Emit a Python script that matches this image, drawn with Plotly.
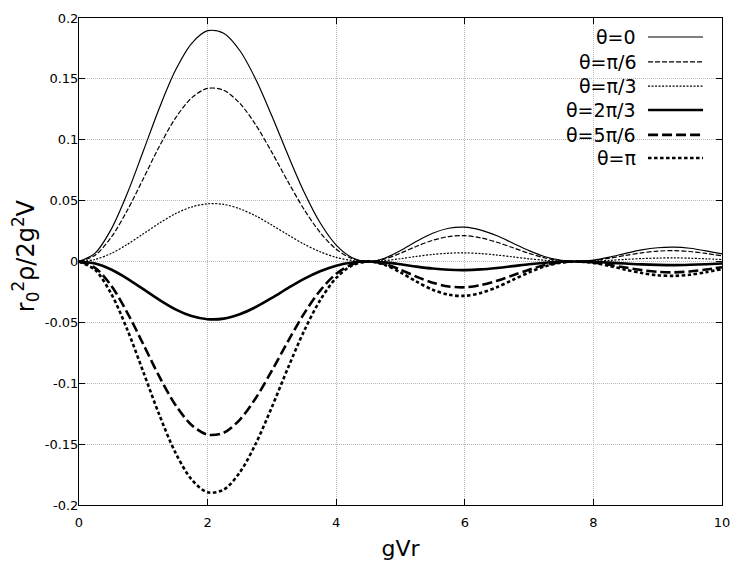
import plotly.graph_objects as go

# sample points along gVr
gvr = [0, 0.25, 0.5, 0.75, 1.0, 1.25, 1.5, 1.75, 2.0, 2.25, 2.5, 2.75, 3.0, 3.25,
       3.5, 3.75, 4.0, 4.25, 4.5, 4.75, 5.0, 5.25, 5.5, 5.75, 6.0, 6.25, 6.5,
       6.75, 7.0, 7.25, 7.5, 7.75, 8.0, 8.25, 8.5, 8.75, 9.0, 9.25, 9.5, 9.75, 10.0]

# values, one list per angle
rho_0 = [0, 0.0069, 0.0264, 0.0558, 0.0907, 0.1261, 0.1570, 0.1790, 0.1896, 0.1874,
         0.1733, 0.1495, 0.1195, 0.0874, 0.0571, 0.0318, 0.0135, 0.0031, 0.0000,
         0.0027, 0.0090, 0.0166, 0.0232, 0.0273, 0.0282, 0.0258, 0.0211, 0.0150,
         0.0089, 0.0039, 0.0009, 0.0000, 0.0011, 0.0036, 0.0067, 0.0095, 0.0113,
         0.0118, 0.0109, 0.0088, 0.0062]
rho_pi6 = [0, 0.0052, 0.0198, 0.0419, 0.0680, 0.0946, 0.1178, 0.1343, 0.1422, 0.1406,
           0.1300, 0.1121, 0.0896, 0.0656, 0.0428, 0.0239, 0.0101, 0.0023, 0.0000,
           0.0020, 0.0068, 0.0125, 0.0174, 0.0205, 0.0212, 0.0194, 0.0158, 0.0113,
           0.0067, 0.0029, 0.0007, 0.0000, 0.0008, 0.0027, 0.0050, 0.0071, 0.0085,
           0.0089, 0.0082, 0.0066, 0.0047]
rho_pi3 = [0, 0.0017, 0.0066, 0.0140, 0.0227, 0.0315, 0.0393, 0.0448, 0.0474, 0.0469,
           0.0433, 0.0374, 0.0299, 0.0219, 0.0143, 0.0080, 0.0034, 0.0008, 0.0000,
           0.0007, 0.0023, 0.0042, 0.0058, 0.0068, 0.0071, 0.0065, 0.0053, 0.0038,
           0.0022, 0.0010, 0.0002, 0.0000, 0.0003, 0.0009, 0.0017, 0.0024, 0.0028,
           0.0030, 0.0027, 0.0022, 0.0016]
rho_2pi3 = [0, -0.0017, -0.0066, -0.0140, -0.0227, -0.0315, -0.0393, -0.0448, -0.0474,
            -0.0469, -0.0433, -0.0374, -0.0299, -0.0219, -0.0143, -0.0080, -0.0034,
            -0.0008, 0.0000, -0.0007, -0.0023, -0.0042, -0.0058, -0.0068, -0.0071,
            -0.0065, -0.0053, -0.0038, -0.0022, -0.0010, -0.0002, 0.0000, -0.0003,
            -0.0009, -0.0017, -0.0024, -0.0028, -0.0030, -0.0027, -0.0022, -0.0016]
rho_5pi6 = [0, -0.0052, -0.0198, -0.0419, -0.0680, -0.0946, -0.1178, -0.1343, -0.1422,
            -0.1406, -0.1300, -0.1121, -0.0896, -0.0656, -0.0428, -0.0239, -0.0101,
            -0.0023, 0.0000, -0.0020, -0.0068, -0.0125, -0.0174, -0.0205, -0.0212,
            -0.0194, -0.0158, -0.0113, -0.0067, -0.0029, -0.0007, 0.0000, -0.0008,
            -0.0027, -0.0050, -0.0071, -0.0085, -0.0089, -0.0082, -0.0066, -0.0047]
rho_pi = [0, -0.0069, -0.0264, -0.0558, -0.0907, -0.1261, -0.1570, -0.1790, -0.1896,
          -0.1874, -0.1733, -0.1495, -0.1195, -0.0874, -0.0571, -0.0318, -0.0135,
          -0.0031, 0.0000, -0.0027, -0.0090, -0.0166, -0.0232, -0.0273, -0.0282,
          -0.0258, -0.0211, -0.0150, -0.0089, -0.0039, -0.0009, 0.0000, -0.0011,
          -0.0036, -0.0067, -0.0095, -0.0113, -0.0118, -0.0109, -0.0088, -0.0062]

labels = ['θ=0', 'θ=π/6', 'θ=π/3', 'θ=2π/3', 'θ=5π/6', 'θ=π']
series = [rho_0, rho_pi6, rho_pi3, rho_2pi3, rho_5pi6, rho_pi]

x_ticks = [0, 2, 4, 6, 8, 10]
y_ticks = [-0.2, -0.15, -0.1, -0.05, 0, 0.05, 0.1, 0.15, 0.2]
y_ticktext = ['-0.2', '-0.15', '-0.1', '-0.05', '0', '0.05', '0.1', '0.15', '0.2']

# gnuplot-ish line types: (width, dash)
styles = [(1.2, 'solid'), (1.2, '5px,2px'), (1.2, '2px,1.5px'),
          (2.6, 'solid'), (2.6, '10px,4px'), (2.6, '3.5px,2.5px')]

FONT = 'DejaVu Sans'

fig = go.Figure()
for name, ys, (w, d) in zip(labels, series, styles):
    fig.add_trace(go.Scatter(x=gvr, y=ys, mode='lines', name=name,
                             line=dict(color='black', width=w, dash=d,
                                       shape='spline', smoothing=0.9),
                             showlegend=False))

# key box, drawn by hand so text sits left of the sample like gnuplot does
fig.add_shape(type='rect', xref='paper', yref='paper', x0=0.759, x1=1.0,
              y0=0.684, y1=1.0, fillcolor='white', line_width=0, layer='between')
row_y = [0.961, 0.910, 0.860, 0.811, 0.760, 0.7125]
for name, ry, (w, d) in zip(labels, row_y, styles):
    fig.add_annotation(x=0.8694, y=ry, xref='paper', yref='paper', text=name,
                       showarrow=False, xanchor='right', yanchor='middle',
                       font=dict(family=FONT, size=19, color='black'))
    fig.add_shape(type='line', xref='paper', yref='paper', x0=0.885, x1=0.9705,
                  y0=ry, y1=ry, line=dict(color='black', width=w, dash=d))

# y label as an annotation so it can sit right at the left edge
fig.add_annotation(x=0, y=0.511, xref='paper', yref='paper', xshift=-54,
                   text='r<sub>0</sub><sup>2</sup>ρ/2g<sup>2</sup>V', textangle=-90,
                   showarrow=False, xanchor='center', yanchor='middle',
                   font=dict(family=FONT, size=24, color='black'))

axis_common = dict(showline=True, linecolor='black', linewidth=1, mirror='ticks',
                   ticks='inside', ticklen=6, tickcolor='black', tickwidth=1,
                   showgrid=True, gridcolor='#b8b8b8', griddash='1px,1px', gridwidth=1,
                   zeroline=False, tickfont=dict(family=FONT, size=13, color='black'))

fig.update_xaxes(range=[0, 10], tickvals=x_ticks, ticklabelstandoff=5,
                 title=dict(text='gVr', font=dict(family=FONT, size=22, color='black'),
                            standoff=12),
                 **axis_common)
fig.update_yaxes(range=[-0.2, 0.2], tickvals=y_ticks, ticktext=y_ticktext,
                 ticklabelstandoff=-3, **axis_common)

# page body adds an 8px offset, so the margins are trimmed on the left/top
fig.update_layout(width=747, height=561, plot_bgcolor='white', paper_bgcolor='white',
                  margin=dict(l=71, r=33, t=10, b=64, autoexpand=False),
                  font=dict(family=FONT, color='black'))

fig.write_html("out.html")
